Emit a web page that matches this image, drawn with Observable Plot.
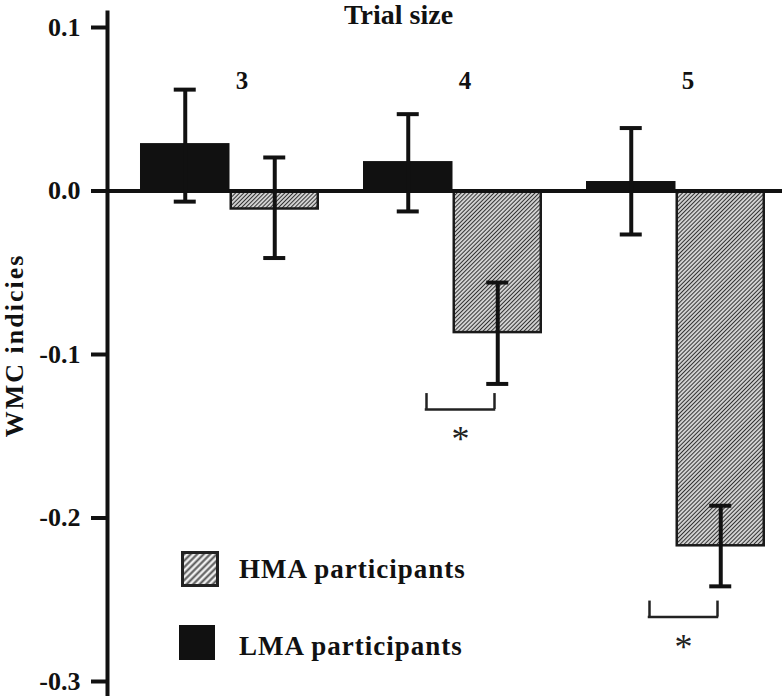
<!DOCTYPE html>
<html><head><meta charset="utf-8">
<script src="https://cdn.jsdelivr.net/npm/d3@7"></script>
<script src="https://cdn.jsdelivr.net/npm/@observablehq/plot@0.6"></script>
<style>
body{margin:0;background:#fff}
#wrap{position:relative;width:782px;height:696px}
#legend{position:absolute;left:0;top:0;pointer-events:none}
</style></head><body><div id="wrap"></div>
<script>
// ---- data ----
const groups = ["3", "4", "5"];                 // trial size
const lmaMean = [0.029, 0.018, 0.0058];
const lmaLo   = [-0.0065, -0.0125, -0.0266];
const lmaHi   = [0.062, 0.047, 0.0385];
const hmaMean = [-0.011, -0.0866, -0.2170];
const hmaLo   = [-0.041, -0.118, -0.2418];
const hmaHi   = [0.0205, -0.056, -0.1925];
const sigGroups = ["4", "5"];
const sigTop    = [-0.1239, -0.2508];
const sigBottom = [-0.1336, -0.2606];
const yTicks = [0.1, 0.0, -0.1, -0.2, -0.3];
const yLabel = "WMC indicies";
const xTitle = "Trial size";
const legendLabels = ["HMA participants", "LMA participants"];

const lma = groups.map((g, i) => ({g, mean: lmaMean[i], lo: lmaLo[i], hi: lmaHi[i]}));
const hma = groups.map((g, i) => ({g, mean: hmaMean[i], lo: hmaLo[i], hi: hmaHi[i]}));
const sig = sigGroups.map((g, i) => ({g, top: sigTop[i], bottom: sigBottom[i]}));

// ---- layout ----
const W = 782, H = 696, ML = 107, MR = 0, MT = 27, MB = 15;
const PI = 0.1973, PO = 0.1121, AL = 0.66;
const bw = d3.scaleBand().domain(groups).range([ML, W - MR]).paddingInner(PI).paddingOuter(PO).align(AL).bandwidth();
const half = bw / 2;
const cap = 11;
const ink = "#111";
const font = "'Liberation Serif', 'Times New Roman', serif";

const errMarks = (data, center) => [
  Plot.ruleX(data, {x: "g", y1: "lo", y2: "hi", dx: center - half, stroke: ink, strokeWidth: 4}),
  Plot.tickY(data, {x: "g", y: "hi", insetLeft: center - cap, insetRight: bw - center - cap, stroke: ink, strokeWidth: 4}),
  Plot.tickY(data, {x: "g", y: "lo", insetLeft: center - cap, insetRight: bw - center - cap, stroke: ink, strokeWidth: 4})
];

const bL = 63, bR = 131;

const chart = Plot.plot({
  width: W, height: H,
  marginLeft: ML, marginRight: MR, marginTop: MT, marginBottom: MB,
  x: {domain: groups, paddingInner: PI, paddingOuter: PO, align: AL, round: false, axis: null},
  y: {domain: [-0.3, 0.1]},
  style: {fontFamily: font, background: "white", color: ink, overflow: "visible"},
  marks: [
    Plot.barY(hma, {x: "g", y: "mean", fill: "url(#hatch)", stroke: "#1a1a1a", strokeWidth: 2.5, insetLeft: half + 1.25, insetRight: 1.25}),
    Plot.barY(lma, {x: "g", y: "mean", fill: ink, insetRight: half}),
    Plot.ruleY([0], {stroke: ink, strokeWidth: 4}),
    ...errMarks(lma, half / 2),
    ...errMarks(hma, half * 1.5),
    Plot.frame({anchor: "left", stroke: ink, strokeWidth: 4, insetTop: -15, insetBottom: -15}),
    Plot.axisY({ticks: yTicks, tickFormat: d => d.toFixed(1), tickSize: 16, tickPadding: 11, stroke: ink, strokeWidth: 4, fontSize: 26, fontWeight: "bold", label: null}),
    Plot.text([xTitle], {text: d => d, frameAnchor: "top", textAnchor: "middle", lineAnchor: "bottom", dx: 398 - (ML + W - MR) / 2, dy: -4, fontSize: 28, fontWeight: "bold", fill: ink}),
    Plot.text(groups, {x: d => d, text: d => d, frameAnchor: "top", textAnchor: "middle", lineAnchor: "bottom", dx: 12, dy: 61, fontSize: 25, fontWeight: "bold", fill: ink}),
    Plot.text([yLabel], {text: d => d, frameAnchor: "left", textAnchor: "middle", rotate: -90, lineAnchor: "middle", dx: 14 - ML, dy: -9, fontSize: 26, fontWeight: "bold", fill: ink}),
    // significance brackets
    Plot.ruleX(sig, {x: "g", y1: "top", y2: "bottom", dx: bL - half, stroke: "#222", strokeWidth: 2.5}),
    Plot.ruleX(sig, {x: "g", y1: "top", y2: "bottom", dx: bR - half, stroke: "#222", strokeWidth: 2.5}),
    Plot.tickY(sig, {x: "g", y: "bottom", insetLeft: bL - 1.25, insetRight: bw - bR - 1.25, stroke: "#222", strokeWidth: 2.5}),
    Plot.text(sig, {x: "g", y: "bottom", text: () => "*", textAnchor: "middle", dx: 97 - half, dy: 42, lineAnchor: "bottom", fontSize: 36, fill: "#222"})
  ]
});

const NS = "http://www.w3.org/2000/svg";
const defs = document.createElementNS(NS, "defs");
defs.innerHTML = '<pattern id="hatch" patternUnits="userSpaceOnUse" width="2.9" height="2.9" patternTransform="rotate(45)">' +
  '<rect width="2.9" height="2.9" fill="#f2f2f2"/><line x1="1.45" y1="0" x2="1.45" y2="2.9" stroke="#333" stroke-width="1.3"/></pattern>';
chart.insertBefore(defs, chart.firstChild);
chart.querySelectorAll("text").forEach(t => {
  if (t.textContent === yLabel) t.setAttribute("letter-spacing", "2");
});

const wrap = document.getElementById("wrap");
wrap.appendChild(chart);

// legend overlay
const leg = document.createElementNS(NS, "svg");
leg.setAttribute("id", "legend");
leg.setAttribute("width", W);
leg.setAttribute("height", H);
leg.innerHTML =
  '<defs><pattern id="hatch2" patternUnits="userSpaceOnUse" width="4.6" height="4.6" patternTransform="rotate(45)">' +
  '<rect width="4.6" height="4.6" fill="#eeeeee"/><line x1="2.3" y1="0" x2="2.3" y2="4.6" stroke="#555" stroke-width="2"/></pattern></defs>' +
  '<rect x="182.5" y="552.5" width="35" height="33" fill="url(#hatch2)" stroke="#222" stroke-width="3"/>' +
  '<rect x="179" y="625" width="36" height="35" fill="#111"/>' +
  `<text x="239" y="578" font-family="${font.replace(/'/g, "&quot;")}" font-size="27" font-weight="bold" letter-spacing="1" fill="#111">${legendLabels[0]}</text>` +
  `<text x="239" y="655" font-family="${font.replace(/'/g, "&quot;")}" font-size="27" font-weight="bold" letter-spacing="1" fill="#111">${legendLabels[1]}</text>`;
wrap.appendChild(leg);
</script></body></html>
